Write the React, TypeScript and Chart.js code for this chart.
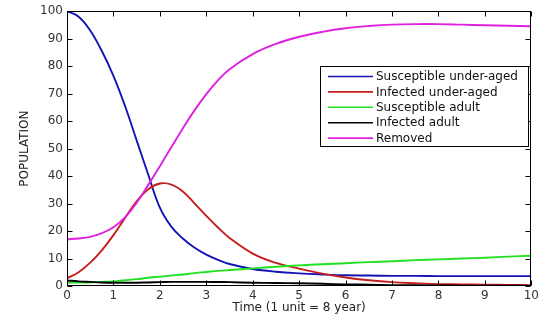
import React, { useEffect, useRef } from "react";
import { Chart, registerables } from "chart.js";

Chart.register(...registerables);

const TIME = [0, 0.25, 0.5, 0.75, 1, 1.25, 1.5, 1.75, 2, 2.25, 2.5, 2.75, 3, 3.25, 3.5, 4, 4.5, 5, 5.5, 6, 6.5, 7, 7.5, 8, 8.5, 9, 9.5, 10];
const SUSCEPTIBLE_UNDER = [100, 98, 93, 85.5, 76.5, 65.5, 53, 40.5, 28.5, 21.5, 17.2, 13.9, 11.4, 9.5, 8, 6.2, 5.2, 4.6, 4.2, 3.9, 3.8, 3.7, 3.7, 3.6, 3.6, 3.6, 3.6, 3.6];
const INFECTED_UNDER = [2.8, 5, 8.5, 13, 18.5, 24.8, 30.8, 35.2, 37.3, 36.9, 34.3, 30, 25.5, 21.3, 17.5, 11.8, 8.4, 6.3, 4.5, 3.1, 2.1, 1.4, 1, 0.7, 0.6, 0.5, 0.4, 0.3];
const SUSCEPTIBLE_ADULT = [1.2, 1.25, 1.3, 1.5, 1.7, 2.1, 2.5, 3, 3.4, 3.8, 4.2, 4.7, 5.1, 5.5, 5.8, 6.4, 7, 7.5, 7.9, 8.3, 8.7, 9, 9.4, 9.7, 10, 10.3, 10.7, 11];
const INFECTED_ADULT = [2, 1.7, 1.5, 1.3, 1.2, 1.2, 1.2, 1.3, 1.4, 1.5, 1.5, 1.5, 1.5, 1.45, 1.4, 1.2, 1.1, 1, 0.8, 0.6, 0.45, 0.3, 0.25, 0.2, 0.15, 0.1, 0.08, 0.05];
const REMOVED = [17, 17.3, 17.9, 19.2, 21.4, 25, 30.3, 36.8, 43.6, 50.6, 57.5, 64, 69.8, 74.8, 78.9, 84.4, 88.1, 90.7, 92.5, 93.8, 94.6, 95.1, 95.3, 95.3, 95.1, 94.9, 94.7, 94.5];

const SERIES_LABELS = ["Susceptible under-aged", "Infected under-aged", "Susceptible adult", "Infected adult", "Removed"];
const SERIES_COLORS = ["#1414b4", "#c41e1e", "#22e022", "#000000", "#e020e0"];
const X_TICKS = [0, 1, 2, 3, 4, 5, 6, 7, 8, 9, 10];
const Y_TICKS = [0, 10, 20, 30, 40, 50, 60, 70, 80, 90, 100];
const X_TITLE = "Time (1 unit = 8 year)";
const Y_TITLE = "POPULATION";

const FONT = '"DejaVu Sans", sans-serif';

const boxPlugin = {
  id: "matlabBox",
  afterDatasetsDraw(chart: any) {
    const { ctx, chartArea, scales } = chart;
    const { left, right, top, bottom } = chartArea;
    const xs = scales.x;
    const ys = scales.y;
    ctx.save();
    ctx.strokeStyle = "#000";
    ctx.lineWidth = 1;
    const L = Math.round(left) + 0.5;
    const R = Math.round(right) - 0.5;
    const T = Math.round(top) + 0.5;
    const B = Math.round(bottom) - 0.5;
    ctx.strokeRect(L, T, R - L, B - T);
    const tl = 5;
    ctx.beginPath();
    X_TICKS.forEach((v) => {
      const px = Math.round(xs.getPixelForValue(v)) + 0.5;
      ctx.moveTo(px, B);
      ctx.lineTo(px, B - tl);
      ctx.moveTo(px, T);
      ctx.lineTo(px, T + tl);
    });
    Y_TICKS.forEach((v) => {
      const py = Math.round(ys.getPixelForValue(v)) + 0.5;
      ctx.moveTo(L, py);
      ctx.lineTo(L + tl, py);
      ctx.moveTo(R, py);
      ctx.lineTo(R - tl, py);
    });
    ctx.stroke();

    // legend
    const bx = 320.5, by = 66.5, bw = 208, bh = 80;
    ctx.fillStyle = "#fff";
    ctx.fillRect(bx, by, bw, bh);
    ctx.strokeStyle = "#000";
    ctx.strokeRect(bx, by, bw, bh);
    ctx.font = "12px " + FONT;
    ctx.textBaseline = "middle";
    ctx.textAlign = "left";
    chart.data.datasets.forEach((ds: any, i: number) => {
      const cy = 76.5 + i * 15.4;
      ctx.strokeStyle = ds.borderColor;
      ctx.lineWidth = 1.6;
      ctx.beginPath();
      ctx.moveTo(328, cy);
      ctx.lineTo(373, cy);
      ctx.stroke();
      ctx.fillStyle = "#111";
      ctx.fillText(ds.label, 376, cy + 0.5);
    });
    ctx.restore();
  },
};

export default function App() {
  const ref = useRef<HTMLCanvasElement | null>(null);
  useEffect(() => {
    document.body.style.margin = "0";
    const seriesValues = [SUSCEPTIBLE_UNDER, INFECTED_UNDER, SUSCEPTIBLE_ADULT, INFECTED_ADULT, REMOVED];
    const chart = new Chart(ref.current as HTMLCanvasElement, {
      type: "line",
      data: {
        datasets: seriesValues.map((vals, i) => ({
          label: SERIES_LABELS[i],
          data: TIME.map((t, j) => ({ x: t, y: vals[j] })),
          borderColor: SERIES_COLORS[i],
          backgroundColor: SERIES_COLORS[i],
          borderWidth: 1.9,
          pointRadius: 0,
          tension: 0.4,
          fill: false,
          order: SERIES_LABELS.length - i,
        })),
      },
      options: {
        animation: false,
        responsive: false,
        maintainAspectRatio: false,
        layout: { padding: { left: 0, right: 9, top: 11, bottom: 0 } },
        plugins: { legend: { display: false }, tooltip: { enabled: false } },
        scales: {
          x: {
            type: "linear",
            min: 0,
            max: 10,
            afterFit: (s: any) => { s.height = 34; },
            afterBuildTicks: (s: any) => { s.ticks = X_TICKS.map((v) => ({ value: v })); },
            grid: { display: false, drawTicks: false },
            border: { display: false },
            ticks: { padding: 3, maxRotation: 0, color: "#333", font: { family: FONT, size: 12 } },
            title: { display: true, text: X_TITLE, color: "#222", font: { family: FONT, size: 12 }, padding: { top: 0, bottom: 5 } },
          },
          y: {
            type: "linear",
            min: 0,
            max: 100,
            afterFit: (s: any) => { s.width = 67; },
            afterBuildTicks: (s: any) => { s.ticks = Y_TICKS.map((v) => ({ value: v })); },
            grid: { display: false, drawTicks: false },
            border: { display: false },
            ticks: { padding: 4, color: "#333", font: { family: FONT, size: 12 } },
            title: { display: true, text: Y_TITLE, color: "#222", font: { family: FONT, size: 12 }, padding: { top: 18, bottom: 0 } },
          },
        },
      },
      plugins: [boxPlugin],
    } as any);
    return () => chart.destroy();
  }, []);
  return (
    <div style={{ width: 542, height: 320, background: "#fff" }}>
      <canvas ref={ref} width={542} height={320} />
    </div>
  );
}
